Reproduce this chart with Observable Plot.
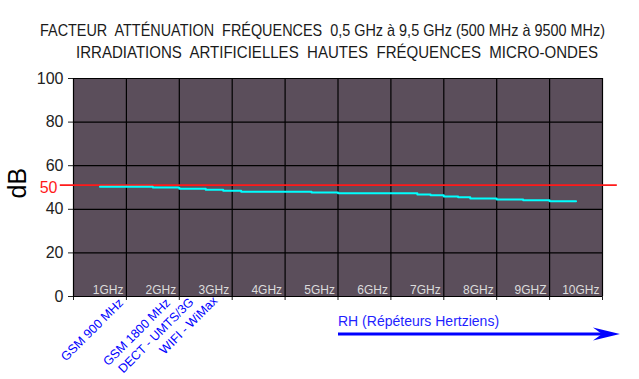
<!DOCTYPE html>
<html>
<head>
<meta charset="utf-8">
<script src="https://cdn.jsdelivr.net/npm/d3@7"></script>
<script src="https://cdn.jsdelivr.net/npm/@observablehq/plot@0.6"></script>
<style>
  html, body { margin: 0; padding: 0; background: #fff; width: 639px; height: 379px; overflow: hidden; }
  #wrap { position: relative; width: 639px; height: 379px; }
  #title { position: relative; height: 70px; width: 639px; }
  .tl { position: absolute; white-space: nowrap; font-family: "Liberation Sans", Arial, sans-serif;
        font-size: 17px; line-height: 17px; color: #1a1a1a; transform-origin: 0 0; }
  #chart svg { display: block; }
</style>
</head>
<body>
<div id="wrap">
  <div id="title">
    <div class="tl" id="t1" style="top:22px;left:40px">FACTEUR&nbsp; ATTÉNUATION&nbsp; FRÉQUENCES&nbsp; 0,5 GHz à 9,5 GHz (500 MHz à 9500 MHz)</div>
    <div class="tl" id="t2" style="top:44px;left:76px">IRRADIATIONS&nbsp; ARTIFICIELLES&nbsp; HAUTES&nbsp; FRÉQUENCES&nbsp; MICRO-ONDES</div>
  </div>
  <div id="chart"></div>
</div>
<script>
// ---- data ----
const freqGHz        = [0.5, 1.5, 2.0, 2.5, 2.83, 3.17, 4.5, 5.0, 6.5, 6.75, 7.0, 7.27, 7.5, 8.0, 8.5, 9.0, 9.5];
const attenuationDB  = [50.4, 50.0, 49.45, 49.0, 48.5, 48.1, 47.7, 47.35, 46.8, 46.4, 45.9, 45.5, 44.95, 44.55, 44.15, 43.65, 43.65];

const bandTicks  = [1, 2, 3, 4, 5, 6, 7, 8, 9, 10];
const bandLabels = ["1GHz", "2GHz", "3GHz", "4GHz", "5GHz", "6GHz", "7GHz", "8GHz", "9GHZ", "10GHz"];
const yTicks     = [0, 20, 40, 60, 80, 100];
const yGrid      = [20, 40, 60, 80, 100];

const refLineDB   = 51.1;
const refLineFrom = -0.25;
const refLineTo   = 10.28;
const refLabel    = "50";
const refLabelDB  = 50;

const serviceLabels = ["GSM 900 MHz", "GSM 1800 MHz", "DECT - UMTS/3G", "WIFI - WiMax"];
const serviceGHz    = [0.9, 1.79, 2.23, 2.68];
const serviceDB     = [-2.0, -2.0, -1.6, -1.0];

const rhLabel   = "RH (Répéteurs Hertziens)";
const rhFrom    = 5.0;
const rhTo      = 10.33;
const rhTextDB  = -11.4;
const rhArrowDB = -17.2;

const unitLabel = "dB";
const unitDB    = 52;

// ---- tables built from the arrays ----
const series   = freqGHz.map((f, i) => ({f, db: attenuationDB[i]}));
const bands    = bandTicks.map((t, i) => ({t, label: bandLabels[i]}));
const services = serviceLabels.map((s, i) => ({s, f: serviceGHz[i], db: serviceDB[i]}));

const arrowHead = {
  draw(ctx) {
    ctx.moveTo(0, 0);
    ctx.lineTo(-27, -6.5);
    ctx.lineTo(-18, 0);
    ctx.lineTo(-27, 6.5);
    ctx.closePath();
  }
};

const FONT = "Liberation Sans, Arial, sans-serif";

const chart = Plot.plot({
  width: 639,
  height: 309,
  marginLeft: 73,
  marginRight: 37,
  marginTop: 8,
  marginBottom: 83,
  style: {fontFamily: FONT, fontSize: "16px", color: "#222", background: "transparent", overflow: "visible"},
  x: {domain: [0, 10], ticks: d3.range(0, 11), tickSize: 4, tickFormat: () => "", label: null},
  y: {domain: [0, 100], ticks: yTicks, tickSize: 5, tickPadding: 5, label: null},
  marks: [
    Plot.frame({fill: "#5b4e5b", stroke: null}),
    Plot.ruleY(yGrid, {stroke: "#000", strokeWidth: 1.2}),
    Plot.ruleX(bandTicks, {stroke: "#000", strokeWidth: 1.2}),
    Plot.ruleX([0], {stroke: "#000", strokeWidth: 1.2}),
    Plot.ruleY([0], {stroke: "#000", strokeWidth: 1.2}),
    Plot.ruleY([{y: refLineDB, x1: refLineFrom, x2: refLineTo}], {y: "y", x1: "x1", x2: "x2", stroke: "#ff1a1a", strokeWidth: 1.7}),
    Plot.line(series, {x: "f", y: "db", curve: "step-after", stroke: "#00ffff", strokeWidth: 2}),
    Plot.text(bands, {x: "t", y: () => 0, text: "label", textAnchor: "end", lineAnchor: "bottom", dx: -3, dy: -3,
                      fill: "#dcdcdc", fontSize: 12, fontFamily: FONT}),
    Plot.text([refLabel], {x: () => 0, y: () => refLabelDB, text: d => d, textAnchor: "end", dx: -16,
                           fill: "#ff1a1a", fontSize: 16, fontFamily: FONT}),
    Plot.text([unitLabel], {x: () => 0, y: () => unitDB, text: d => d, rotate: -90, dx: -56,
                            fill: "#000", fontSize: 25, fontFamily: FONT}),
    Plot.text(services, {x: "f", y: "db", text: "s", rotate: -45, textAnchor: "end",
                         fill: "#0000ff", fontSize: 12.5, fontFamily: FONT}),
    Plot.text([rhLabel], {x: () => rhFrom, y: () => rhTextDB, text: d => d, textAnchor: "start",
                          fill: "#1f1fff", fontSize: 14, fontFamily: FONT}),
    Plot.link([{x1: rhFrom, x2: rhTo - 0.34, y: rhArrowDB}], {x1: "x1", x2: "x2", y1: "y", y2: "y",
                          stroke: "#0000ff", strokeWidth: 3}),
    Plot.dot([{x: rhTo, y: rhArrowDB}], {x: "x", y: "y", symbol: arrowHead, fill: "#0000ff", stroke: "none"})
  ]
});
document.getElementById("chart").appendChild(chart);

// condense title lines to the reference widths
const targets = {t1: 565, t2: 522};
for (const id in targets) {
  const el = document.getElementById(id);
  const w = el.getBoundingClientRect().width;
  el.style.transform = `scaleX(${targets[id] / w})`;
}
</script>
</body>
</html>
